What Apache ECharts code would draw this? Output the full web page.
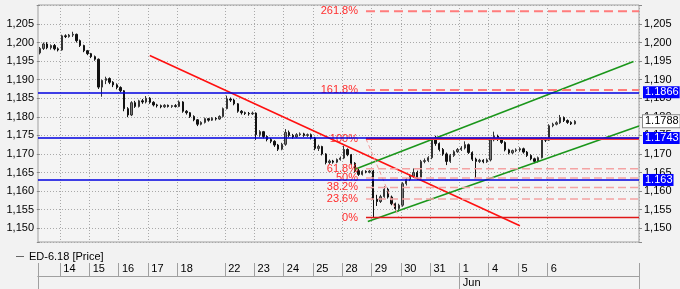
<!DOCTYPE html>
<html><head><meta charset="utf-8">
<script src="https://cdn.jsdelivr.net/npm/echarts@6/dist/echarts.min.js"></script>
<style>html,body{margin:0;padding:0;background:#f2f2f2;}#c{width:680px;height:289px;}</style>
</head><body><div id="c"></div>
<script>
// ---- data ----
const dayLabels = ['11','14','15','16','17','18','22','23','24','25','28','29','30','31','1','4','5','6'];
const barsPerDay = [6,8,8,8,8,13,8,8,8,8,8,8,8,8,8,8,8,8];
const futureBars = 17;
const monthStarts = [{day:'1', label:'Jun'}];
const seriesName = 'ED-6.18 [Price]';
// [open, close, low, high]
const ohlc = [
[1.1972,1.1984,1.1968,1.1988],[1.1984,1.1996,1.1980,1.2000],[1.1996,1.1986,1.1982,1.2001],[1.1986,1.1992,1.1981,1.1995],[1.1992,1.1983,1.1979,1.1996],[1.1983,1.1980,1.1976,1.1987],
[1.1980,1.2018,1.1978,1.2021],[1.2018,1.2016,1.2012,1.2022],[1.2016,1.2020,1.2013,1.2023],[1.2020,1.2022,1.2015,1.2029],[1.2022,1.2005,1.2000,1.2024],[1.2005,1.1992,1.1988,1.2008],[1.1992,1.1978,1.1974,1.1994],[1.1978,1.1970,1.1966,1.1980],
[1.1970,1.1962,1.1958,1.1972],[1.1962,1.1955,1.1951,1.1965],[1.1955,1.1880,1.1875,1.1957],[1.1880,1.1898,1.1854,1.1900],[1.1898,1.1903,1.1888,1.1908],[1.1903,1.1893,1.1888,1.1906],[1.1893,1.1886,1.1880,1.1896],[1.1886,1.1879,1.1874,1.1890],
[1.1879,1.1870,1.1866,1.1882],[1.1870,1.1822,1.1815,1.1872],[1.1822,1.1805,1.1799,1.1826],[1.1805,1.1838,1.1802,1.1842],[1.1838,1.1828,1.1824,1.1843],[1.1828,1.1843,1.1825,1.1846],[1.1843,1.1840,1.1835,1.1848],[1.1840,1.1850,1.1836,1.1856],
[1.1850,1.1839,1.1835,1.1853],[1.1839,1.1832,1.1828,1.1842],[1.1832,1.1830,1.1825,1.1835],[1.1830,1.1827,1.1823,1.1833],[1.1827,1.1831,1.1824,1.1834],[1.1831,1.1828,1.1825,1.1833],[1.1828,1.1830,1.1824,1.1832],[1.1830,1.1828,1.1825,1.1834],
[1.1828,1.1840,1.1826,1.1844],[1.1840,1.1815,1.1811,1.1842],[1.1815,1.1811,1.1806,1.1818],[1.1811,1.1801,1.1797,1.1813],[1.1801,1.1792,1.1788,1.1804],[1.1792,1.1780,1.1775,1.1794],[1.1780,1.1785,1.1777,1.1788],[1.1785,1.1795,1.1782,1.1798],[1.1795,1.1791,1.1787,1.1797],[1.1791,1.1796,1.1789,1.1799],[1.1796,1.1794,1.1790,1.1799],[1.1794,1.1801,1.1792,1.1804],[1.1801,1.1822,1.1798,1.1825],
[1.1822,1.1848,1.1820,1.1857],[1.1848,1.1845,1.1840,1.1852],[1.1845,1.1835,1.1831,1.1848],[1.1835,1.1815,1.1811,1.1837],[1.1815,1.1811,1.1806,1.1818],[1.1811,1.1809,1.1805,1.1814],[1.1809,1.1808,1.1803,1.1813],[1.1808,1.1810,1.1805,1.1814],
[1.1810,1.1752,1.1738,1.1812],[1.1752,1.1760,1.1746,1.1764],[1.1760,1.1747,1.1742,1.1762],[1.1747,1.1739,1.1734,1.1750],[1.1739,1.1734,1.1729,1.1743],[1.1734,1.1724,1.1719,1.1737],[1.1724,1.1713,1.1708,1.1727],[1.1713,1.1726,1.1710,1.1730],
[1.1726,1.1758,1.1722,1.1767],[1.1758,1.1750,1.1745,1.1763],[1.1750,1.1746,1.1741,1.1754],[1.1746,1.1752,1.1743,1.1756],[1.1752,1.1754,1.1748,1.1758],[1.1754,1.1750,1.1746,1.1757],[1.1750,1.1752,1.1746,1.1755],[1.1752,1.1743,1.1739,1.1755],
[1.1743,1.1715,1.1710,1.1746],[1.1715,1.1720,1.1708,1.1725],[1.1720,1.1700,1.1696,1.1722],[1.1700,1.1677,1.1672,1.1702],[1.1677,1.1681,1.1673,1.1685],[1.1681,1.1678,1.1674,1.1684],[1.1678,1.1685,1.1675,1.1688],[1.1685,1.1689,1.1682,1.1693],
[1.1689,1.1712,1.1686,1.1722],[1.1712,1.1698,1.1694,1.1715],[1.1698,1.1675,1.1671,1.1700],[1.1675,1.1655,1.1650,1.1678],[1.1655,1.1645,1.1641,1.1660],[1.1645,1.1653,1.1642,1.1656],[1.1653,1.1651,1.1648,1.1656],[1.1651,1.1654,1.1648,1.1657],
[1.1654,1.1578,1.1529,1.1657],[1.1578,1.1572,1.1560,1.1590],[1.1572,1.1585,1.1568,1.1590],[1.1585,1.1605,1.1582,1.1613],[1.1605,1.1584,1.1580,1.1609],[1.1584,1.1566,1.1562,1.1588],[1.1566,1.1553,1.1548,1.1569],[1.1553,1.1562,1.1545,1.1566],
[1.1562,1.1620,1.1558,1.1624],[1.1620,1.1631,1.1615,1.1635],[1.1631,1.1640,1.1627,1.1645],[1.1640,1.1650,1.1636,1.1661],[1.1650,1.1636,1.1630,1.1655],[1.1636,1.1680,1.1633,1.1684],[1.1680,1.1682,1.1675,1.1688],[1.1682,1.1690,1.1678,1.1694],
[1.1690,1.1738,1.1686,1.1742],[1.1738,1.1728,1.1722,1.1749],[1.1728,1.1712,1.1707,1.1731],[1.1712,1.1700,1.1695,1.1716],[1.1700,1.1680,1.1670,1.1704],[1.1680,1.1696,1.1676,1.1700],[1.1696,1.1706,1.1692,1.1710],[1.1706,1.1712,1.1703,1.1716],
[1.1712,1.1716,1.1708,1.1721],[1.1716,1.1725,1.1712,1.1734],[1.1725,1.1704,1.1700,1.1728],[1.1704,1.1686,1.1681,1.1707],[1.1686,1.1680,1.1635,1.1690],[1.1680,1.1683,1.1676,1.1687],[1.1683,1.1679,1.1675,1.1686],[1.1679,1.1684,1.1676,1.1688],
[1.1684,1.1738,1.1680,1.1742],[1.1738,1.1748,1.1734,1.1760],[1.1748,1.1740,1.1735,1.1752],[1.1740,1.1731,1.1727,1.1744],[1.1731,1.1711,1.1707,1.1734],[1.1711,1.1703,1.1699,1.1714],[1.1703,1.1709,1.1700,1.1712],[1.1709,1.1711,1.1705,1.1715],
[1.1711,1.1714,1.1706,1.1718],[1.1714,1.1705,1.1701,1.1717],[1.1705,1.1696,1.1692,1.1708],[1.1696,1.1687,1.1683,1.1699],[1.1687,1.1680,1.1675,1.1690],[1.1680,1.1690,1.1677,1.1693],[1.1690,1.1740,1.1688,1.1745],[1.1740,1.1737,1.1732,1.1744],
[1.1737,1.1776,1.1735,1.1780],[1.1776,1.1780,1.1772,1.1784],[1.1780,1.1784,1.1777,1.1788],[1.1784,1.1798,1.1781,1.1805],[1.1798,1.1790,1.1786,1.1801],[1.1790,1.1785,1.1781,1.1793],[1.1785,1.1781,1.1778,1.1788],[1.1781,1.1788,1.1779,1.1791]
];
const yMin = 1.1463, yMax = 1.2101;
const yLabelMin = 1.150, yLabelMax = 1.205;
const hLevels = [1.1866, 1.1743, 1.163];
const lastPrice = 1.1788;
// annotation lines: [barIndex, price] endpoints
const trendRed = [[30, 1.1965], [131, 1.1507]];
const channelUpper = [[86, 1.1659], [162, 1.1949]];
const channelLower = [[89.5, 1.1518], [163.5, 1.1775]];
const fibHigh = 1.1741, fibLow = 1.1529;
const fibStartBar = 89, fibDiagEndBar = 98;
const fibLevels = [0, 23.6, 38.2, 50, 61.8, 100, 161.8, 261.8];

// ---- build ----
const categories = [];
const dayStart = [];
dayLabels.forEach((d, i) => {
  dayStart.push(categories.length);
  for (let b = 0; b < barsPerDay[i]; b++) categories.push(d + '_' + b);
});
for (let k = 0; k < futureBars; k++) categories.push('_f' + k);
const startSet = new Set(dayStart);
const monthIdx = new Set(monthStarts.map(m => dayStart[dayLabels.indexOf(m.day)]));
const monthLabelAt = {};
monthStarts.forEach(m => { monthLabelAt[dayStart[dayLabels.indexOf(m.day)]] = m.label; });
const xEnd = categories.length - 0.5;

const FONT = 'Liberation Sans, Arial, sans-serif';
const gridGray = '#a9a9a9';
const fmtTick = v => (Math.abs(v * 200 - Math.round(v * 200)) < 1e-6 && v >= yLabelMin - 1e-6 && v <= yLabelMax + 1e-6)
  ? v.toFixed(3).replace('.', ',') : '';

function fibStyle(l) {
  if (l === 0) return {color: '#e01818', width: 1.5, type: 'solid'};
  if (l === 100) return {color: '#ff3a3a', width: 2.5, type: 'solid'};
  if (l > 100) return {color: '#ff7c7c', width: 2, type: [9, 5]};
  return {color: '#f4a3a3', width: 1.5, type: [8, 4]};
}

const lineSeries = (data, style) => ({
  type: 'line', xAxisIndex: 3, yAxisIndex: 0, data, symbol: 'none', silent: true,
  lineStyle: style, animation: false, z: 3
});

const fibSeries = fibLevels.map(l => {
  const v = fibLow + (fibHigh - fibLow) * l / 100;
  return {
    type: 'line', xAxisIndex: 3, yAxisIndex: 0, silent: true, animation: false, z: 3,
    symbol: 'circle', symbolSize: 2, showSymbol: true,
    itemStyle: {color: 'rgba(0,0,0,0)', borderWidth: 0},
    lineStyle: fibStyle(l),
    data: [
      {value: [fibStartBar, v], label: {show: true, position: 'left', distance: 7, formatter: l + '%',
        color: '#ff2d2d', fontSize: 11, fontFamily: FONT}},
      [xEnd, v]
    ]
  };
});

const boxLabel = (v, bg, fg, border) => ({
  show: true, position: 'end', distance: 4, formatter: String(v),
  backgroundColor: bg, color: fg, borderColor: border || bg, borderWidth: border ? 1 : 0,
  padding: [1, 1, 0, 2], fontSize: 11, fontFamily: FONT
});

const option = {
  animation: false,
  backgroundColor: '#f2f2f2',
  textStyle: {fontFamily: FONT},
  legend: {
    left: 11, top: 246, itemWidth: 8, itemHeight: 1, itemGap: 5,
    textStyle: {fontSize: 11, color: '#000', fontFamily: FONT},
    data: [{name: seriesName, icon: 'rect', itemStyle: {color: '#666', borderWidth: 0}}]
  },
  grid: [
    {left: 38, right: 41, top: 5, height: 237, show: true, borderColor: '#a0a0a0', borderWidth: 1, backgroundColor: '#f4f4f4'},
    {left: 38, right: 41, top: 263, height: 13}
  ],
  xAxis: [
    {type: 'category', gridIndex: 0, data: categories, boundaryGap: true,
     axisLine: {show: false}, axisTick: {show: false}, axisLabel: {show: false},
     splitLine: {show: true, interval: i => startSet.has(i) && i > 0, lineStyle: {color: gridGray, type: [1, 2]}}},
    {type: 'category', gridIndex: 1, position: 'top', data: categories, boundaryGap: true,
     axisLine: {show: true, lineStyle: {color: '#a0a0a0'}}, axisTick: {show: false},
     axisLabel: {show: true, inside: true, margin: 0, interval: i => startSet.has(i) && i > 0,
       formatter: v => v.split('_')[0], align: 'left', padding: [0, 0, 0, 1.5], fontSize: 11, color: '#000', fontFamily: FONT},
     splitLine: {show: true, interval: i => startSet.has(i), lineStyle: {color: '#a0a0a0', type: 'solid'}}},
    {type: 'category', gridIndex: 1, position: 'bottom', data: categories, boundaryGap: true,
     axisLine: {show: true, lineStyle: {color: '#a0a0a0'}},
     axisTick: {show: true, interval: i => i === 0 || monthIdx.has(i), length: 13, lineStyle: {color: '#a0a0a0'}},
     axisLabel: {show: true, margin: 1, interval: i => monthIdx.has(i), formatter: (v, i) => monthLabelAt[i] || '',
       align: 'left', padding: [0, 0, 0, 1.5], fontSize: 11, color: '#000', fontFamily: FONT},
     splitLine: {show: false}},
    {type: 'value', gridIndex: 0, position: 'top', min: -0.5, max: xEnd, show: false}
  ],
  yAxis: [
    {type: 'value', gridIndex: 0, position: 'left', min: yMin, max: yMax, splitNumber: 12, scale: true,
     axisLine: {show: false}, axisTick: {show: true, length: 3, lineStyle: {color: '#888'}},
     axisLabel: {margin: 4, fontSize: 11, color: '#000', formatter: fmtTick, fontFamily: FONT},
     splitLine: {show: true, lineStyle: {color: gridGray, type: [1, 2]}}},
    {type: 'value', gridIndex: 0, position: 'right', min: yMin, max: yMax, splitNumber: 12, scale: true,
     axisLine: {show: false}, axisTick: {show: true, length: 3, lineStyle: {color: '#888'}},
     axisLabel: {margin: 5, fontSize: 11, color: '#000', formatter: fmtTick, fontFamily: FONT},
     splitLine: {show: false}},
    {type: 'value', gridIndex: 1, show: false}
  ],
  series: [
    {
      type: 'candlestick', name: seriesName, xAxisIndex: 0, yAxisIndex: 0, data: ohlc,
      barMaxWidth: 2, silent: true,
      itemStyle: {color: '#7a7a7a', color0: '#111', borderColor: '#333', borderColor0: '#111', borderWidth: 1},
      markLine: {
        silent: true, symbol: ['none', 'none'], animation: false, precision: 4,
        data: hLevels.map(v => ({yAxis: v, lineStyle: {color: '#0000e0', width: 1.5, type: 'solid'},
            label: boxLabel(v, '#0000ff', '#fff')}))
          .concat([{yAxis: lastPrice, lineStyle: {color: 'rgba(0,0,0,0)', width: 0},
            label: boxLabel(lastPrice, '#ffffff', '#000', '#888')}])
      }
    },
    lineSeries(trendRed, {color: '#ff1010', width: 1.6}),
    lineSeries(channelUpper, {color: '#1a961a', width: 1.6}),
    lineSeries(channelLower, {color: '#1a961a', width: 1.6}),
    lineSeries([[fibStartBar, fibHigh], [fibDiagEndBar, fibLow]], {color: '#f29a9a', width: 1, type: [4, 3]})
  ].concat(fibSeries)
};
const chart = echarts.init(document.getElementById('c'), null, {renderer: 'canvas'});
chart.setOption(option);
</script></body></html>
